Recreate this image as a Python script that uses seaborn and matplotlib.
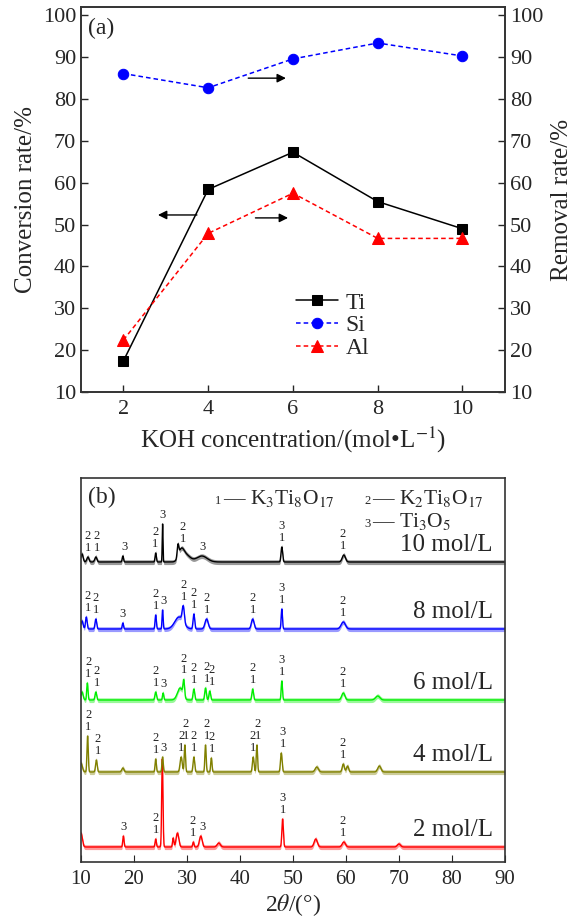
import numpy as np
import pandas as pd
import matplotlib
matplotlib.use("Agg")
import matplotlib.pyplot as plt
import seaborn as sns

sns.set_style("ticks")
plt.rcParams["font.family"] = ["Liberation Serif", "DejaVu Serif"]
plt.rcParams["mathtext.fontset"] = "stix"

# ---- panel (a) data ----
koh = [2, 4, 6, 8, 10]
ti_conv = [17.4, 58.4, 67.3, 55.5, 49.0]
si_rem = [86.1, 82.7, 89.6, 93.4, 90.3]
al_rem = [22.4, 47.9, 57.5, 46.7, 46.7]

# ---- panel (b) data: XRD peaks (2theta, height, width) ----
samples = ["2 mol/L", "4 mol/L", "6 mol/L", "8 mol/L", "10 mol/L"]
colors = ["#ff0000", "#808000", "#00ee00", "#0000ff", "#000000"]
offsets = [15, 90, 162, 233, 300]

pos_2 = [10.0, 18.0, 24.1, 25.35, 27.4, 28.2, 31.2, 32.6, 36.0, 48.05, 54.3, 59.6, 70.0]
hgt_2 = [14, 11, 8, 88, 9, 14, 5, 11, 4, 28, 8, 5, 3]
wid_2 = [0.25, 0.12, 0.12, 0.12, 0.12, 0.25, 0.12, 0.25, 0.3, 0.14, 0.3, 0.3, 0.3]

pos_4 = [10.0, 11.25, 12.9, 17.9, 24.1, 25.4, 28.9, 29.6, 31.3, 33.5, 34.6, 42.5, 43.2, 47.8, 54.5, 59.5, 60.3, 66.3]
hgt_4 = [9, 36, 12, 4, 13, 15, 15, 27, 15, 27, 14, 15, 27, 19, 5, 8, 6, 6]
wid_4 = [0.25, 0.12, 0.15, 0.2, 0.12, 0.12, 0.2, 0.12, 0.15, 0.12, 0.12, 0.15, 0.12, 0.15, 0.3, 0.2, 0.2, 0.3]

pos_6 = [10.2, 11.2, 12.8, 24.1, 25.5, 28.7, 29.4, 31.3, 33.5, 34.3, 42.4, 47.9, 59.5, 66.0]
hgt_6 = [8, 17, 8, 8, 7, 12, 16, 11, 12, 9, 11, 19, 7, 4]
wid_6 = [0.2, 0.12, 0.15, 0.15, 0.12, 0.5, 0.15, 0.15, 0.15, 0.15, 0.15, 0.12, 0.3, 0.4]

pos_8 = [10.2, 11.0, 12.8, 17.9, 24.1, 25.4, 28.5, 29.3, 31.3, 33.7, 42.4, 47.9, 59.5]
hgt_8 = [8, 12, 10, 6, 14, 19, 12, 16, 15, 10, 10, 20, 7]
wid_8 = [0.2, 0.15, 0.15, 0.12, 0.12, 0.1, 0.8, 0.2, 0.15, 0.3, 0.25, 0.12, 0.4]

pos_10 = [10.2, 11.3, 12.8, 17.9, 24.1, 25.4, 28.3, 28.9, 29.8, 32.8, 47.9, 59.6]
hgt_10 = [8, 5, 5, 6, 9, 38, 12, 10, 7, 6, 15, 7]
wid_10 = [0.2, 0.2, 0.2, 0.12, 0.12, 0.07, 0.15, 0.5, 0.8, 1.0, 0.15, 0.3]

# phase marks above peaks: 1 = K3Ti8O17, 2 = K2Ti8O17, 3 = Ti3O5
lab_pos_2 = [18.1, 24.1, 31.1, 33.0, 48.1, 59.4]
lab_txt_2 = ["3", "2\n1", "2\n1", "3", "3\n1", "2\n1"]
lab_pos_4 = [11.4, 13.2, 24.1, 25.5, 28.9, 29.8, 31.3, 33.7, 34.7, 42.4, 43.4, 48.1, 59.4]
lab_txt_4 = ["2\n1", "2\n1", "2\n1", "3", "2\n1", "2\n1", "2\n1", "2\n1", "2\n1", "2\n1", "2\n1", "3\n1", "2\n1"]
lab_pos_6 = [11.4, 13.0, 24.1, 25.5, 29.4, 31.3, 33.7, 34.7, 42.4, 47.9, 59.4]
lab_txt_6 = ["2\n1", "2\n1", "2\n1", "3", "2\n1", "2\n1", "2\n1", "2\n1", "2\n1", "3\n1", "2\n1"]
lab_pos_8 = [11.3, 12.8, 17.9, 24.1, 25.5, 29.4, 31.3, 33.7, 42.4, 47.9, 59.4]
lab_txt_8 = ["2\n1", "2\n1", "3", "2\n1", "3", "2\n1", "2\n1", "2\n1", "2\n1", "3\n1", "2\n1"]
lab_pos_10 = [11.3, 13.0, 18.3, 24.0, 25.3, 29.2, 32.9, 47.9, 59.4]
lab_txt_10 = ["2\n1", "2\n1", "3", "2\n1", "3", "2\n1", "3", "3\n1", "2\n1"]

peak_sets = [(pos_2, hgt_2, wid_2), (pos_4, hgt_4, wid_4), (pos_6, hgt_6, wid_6),
             (pos_8, hgt_8, wid_8), (pos_10, hgt_10, wid_10)]
label_sets = [(lab_pos_2, lab_txt_2), (lab_pos_4, lab_txt_4), (lab_pos_6, lab_txt_6),
              (lab_pos_8, lab_txt_8), (lab_pos_10, lab_txt_10)]

fig = plt.figure(figsize=(5.81, 9.24), dpi=100)
ax = fig.add_axes([0.1394, 0.5758, 0.7296, 0.4166])
axb = fig.add_axes([0.1394, 0.0671, 0.7296, 0.4156])

# ---------------- panel (a) ----------------
dfa = pd.DataFrame({"koh": koh, "Ti": ti_conv, "Si": si_rem, "Al": al_rem})
sns.lineplot(data=dfa, x="koh", y="Ti", ax=ax, color="black", marker="s",
             markersize=7, markeredgecolor="black", lw=1.1, label="Ti", legend=False)
ax2 = ax.twinx()
sns.lineplot(data=dfa, x="koh", y="Si", ax=ax2, color="#0000ff", marker="o",
             markersize=7.5, markeredgecolor="#0000ff", lw=1.1,
             linestyle=(0, (3, 2)), label="Si", legend=False)
sns.lineplot(data=dfa, x="koh", y="Al", ax=ax2, color="#ff0000", marker="^",
             markersize=8, markeredgecolor="#ff0000", lw=1.1,
             linestyle=(0, (3, 2)), label="Al", legend=False)

for a in (ax, ax2):
    a.set_ylim(10, 102)
    a.set_yticks(range(10, 101, 10))
    a.tick_params(direction="in", length=5, labelsize=16, width=1)
ax.set_xlim(1, 11)
ax.set_xticks(koh)
ax.set_xlabel("KOH concentration/(mol\u2022L$^{-1}$)", fontsize=18, labelpad=4)
ax.set_ylabel("Conversion rate/%", fontsize=18, labelpad=4)
ax2.set_ylabel("Removal rate/%", fontsize=18, labelpad=6)
ax.tick_params(axis="x", pad=6)
for a in (ax, ax2, axb):
    for s in a.spines.values():
        s.set_linewidth(1.2)
        s.set_color("#333333")

ax.text(1.17, 95.5, "(a)", fontsize=17)
arrow = dict(arrowstyle="-|>", color="black", lw=1.0, mutation_scale=13)
ax.annotate("", xy=(2.75, 52.3), xytext=(3.8, 52.3), arrowprops=arrow)
ax.annotate("", xy=(5.95, 51.6), xytext=(5.05, 51.6), arrowprops=arrow)
ax.annotate("", xy=(5.9, 85.0), xytext=(4.88, 85.0), arrowprops=arrow)

h1, l1 = ax.get_legend_handles_labels()
h2, l2 = ax2.get_legend_handles_labels()
ax2.legend(h1 + h2, l1 + l2, loc="upper left", bbox_to_anchor=(0.48, 0.29),
           frameon=False, fontsize=17, handlelength=1.75, handletextpad=0.35,
           labelspacing=0.05, borderpad=0)

# ---------------- panel (b) ----------------
two_theta = np.linspace(10, 90, 3201)
for name, col, off, (p, h, w), (lp, lt) in zip(samples, colors, offsets, peak_sets, label_sets):
    y = np.full_like(two_theta, float(off))
    for pp, hh, ww in zip(p, h, w):
        y += hh * np.exp(-0.5 * ((two_theta - pp) / ww) ** 2)
    axb.fill_between(two_theta, y - 2.6, y + 2.2, color=col, alpha=0.4, lw=0)
    sns.lineplot(x=two_theta, y=y, ax=axb, color=col, lw=1.0)
    for xp, txt in zip(lp, lt):
        win = (two_theta > xp - 0.45) & (two_theta < xp + 0.45)
        axb.text(xp, y[win].max() + 3, txt, ha="center", va="bottom",
                 fontsize=9, linespacing=0.95, color="#222222")
    axb.text(87.7, off + 11, name, ha="right", va="baseline", fontsize=18)

axb.set_xlim(10, 90)
axb.set_ylim(0, 384)
axb.set_yticks([])
axb.set_xticks(range(10, 91, 10))
axb.tick_params(axis="x", direction="in", length=5, labelsize=15, pad=6)
axb.set_xlabel("2$\\it{\u03b8}$/(\u00b0)", fontsize=17, labelpad=2)
axb.set_ylabel("")

axb.text(0.017, 0.935, "(b)", transform=axb.transAxes, fontsize=17, va="baseline")
legend_rows = [(0.323, 0.933, "1", "\u2014 K$_3$Ti$_8$O$_{17}$"),
               (0.675, 0.933, "2", "\u2014 K$_2$Ti$_8$O$_{17}$"),
               (0.675, 0.872, "3", "\u2014 Ti$_3$O$_5$")]
for xa, ya, num, formula in legend_rows:
    axb.text(xa, ya, num, transform=axb.transAxes, fontsize=9, ha="center", va="baseline")
    axb.text(xa + 0.012, ya, formula, transform=axb.transAxes, fontsize=15.5, va="baseline")

fig.savefig("out.png", dpi=100)
